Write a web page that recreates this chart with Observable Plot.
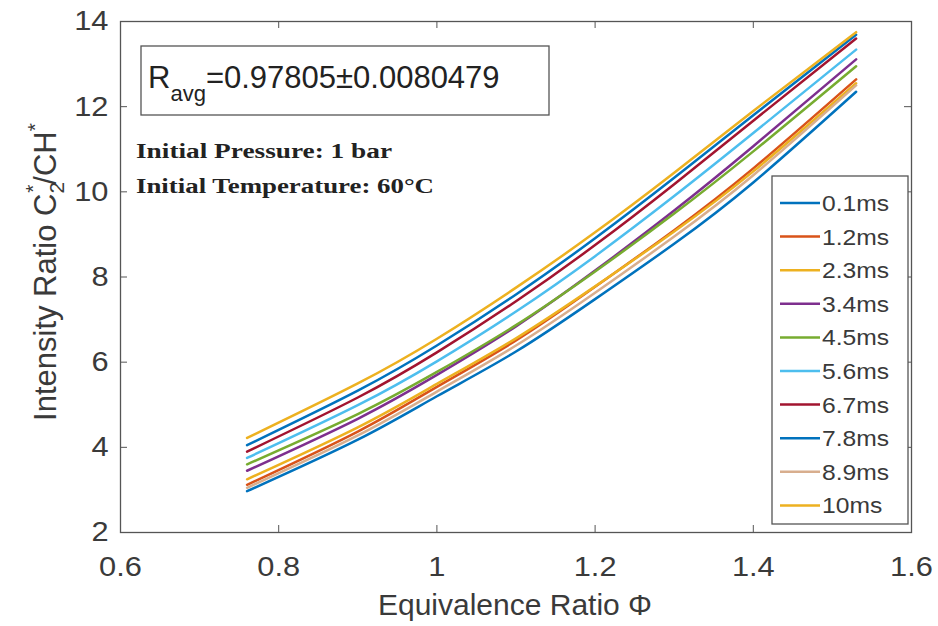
<!DOCTYPE html>
<html>
<head>
<meta charset="utf-8">
<script src="https://cdn.jsdelivr.net/npm/d3@7"></script>
<script src="https://cdn.jsdelivr.net/npm/@observablehq/plot@0.6"></script>
<style>
  html, body { margin: 0; padding: 0; background: #fff; }
  #chart svg { display: block; }
</style>
</head>
<body>
<div id="chart"></div>
<script>
// Equivalence ratio sample points
const phi = [0.76, 0.9, 1.0, 1.1, 1.2, 1.3, 1.4, 1.53];
// Intensity ratio C2*/CH* per time
const ms01 = [2.97, 4.18, 5.20, 6.25, 7.48, 8.78, 10.22, 12.35];
const ms12 = [3.12, 4.37, 5.42, 6.51, 7.77, 9.10, 10.55, 12.64];
const ms23 = [3.25, 4.47, 5.49, 6.56, 7.78, 9.07, 10.48, 12.55];
const ms34 = [3.45, 4.67, 5.70, 6.84, 8.15, 9.56, 11.07, 13.11];
const ms45 = [3.60, 4.78, 5.77, 6.87, 8.13, 9.49, 10.95, 12.95];
const ms56 = [3.75, 4.99, 6.02, 7.19, 8.49, 9.90, 11.38, 13.34];
const ms67 = [3.90, 5.17, 6.23, 7.43, 8.75, 10.18, 11.67, 13.60];
const ms78 = [4.05, 5.33, 6.39, 7.59, 8.91, 10.33, 11.80, 13.69];
const ms89 = [3.05, 4.28, 5.31, 6.39, 7.63, 8.95, 10.39, 12.50];
const ms10 = [4.22, 5.50, 6.55, 7.75, 9.05, 10.45, 11.90, 13.75];

const seriesNames = ["0.1ms","1.2ms","2.3ms","3.4ms","4.5ms","5.6ms","6.7ms","7.8ms","8.9ms","10ms"];
const seriesValues = [ms01, ms12, ms23, ms34, ms45, ms56, ms67, ms78, ms89, ms10];
const seriesColors = ["#0072BD","#D95319","#EDB120","#7E2F8E","#77AC30","#4DBEEE","#A2142F","#0072BD","#D8AE8E","#EDB120"];

const xTicks = [0.6, 0.8, 1.0, 1.2, 1.4, 1.6];
const yTicks = [2, 4, 6, 8, 10, 12, 14];
const xTickLabels = ["0.6", "0.8", "1", "1.2", "1.4", "1.6"];

const rows = seriesNames.flatMap((s, i) => phi.map((p, j) => ({series: s, phi: p, v: seriesValues[i][j]})));

const W = 938, H = 626;
const mL = 120, mR = 27, mT = 21, mB = 94;
const pw = W - mL - mR, ph = H - mT - mB;
const axisColor = "#555";
const textColor = "#3a3a3a";
const sans = "'Liberation Sans', Arial, sans-serif";

const chart = Plot.plot({
  width: W, height: H,
  marginLeft: mL, marginRight: mR, marginTop: mT, marginBottom: mB,
  style: {fontFamily: sans, background: "#fff", color: textColor},
  x: {domain: [0.6, 1.6], label: null},
  y: {domain: [2, 14], label: null},
  color: {domain: seriesNames, range: seriesColors},
  marks: [
    Plot.frame({stroke: axisColor, strokeWidth: 1.3}),
    Plot.tickX(xTicks, {x: d => d, stroke: axisColor, insetTop: ph - 7}),
    Plot.tickX(xTicks, {x: d => d, stroke: axisColor, insetBottom: ph - 7}),
    Plot.tickY(yTicks, {y: d => d, stroke: axisColor, insetRight: pw - 7}),
    Plot.tickY(yTicks, {y: d => d, stroke: axisColor, insetLeft: pw - 7}),
    Plot.axisX(xTicks, {tickSize: 0, tickPadding: 24, fontSize: 28, tickFormat: (d, i) => xTickLabels[i], fill: textColor}),
    Plot.axisY(yTicks, {tickSize: 0, tickPadding: 12, fontSize: 28, fill: textColor}),
    Plot.line(rows, {x: "phi", y: "v", z: "series", stroke: "series", curve: "natural", strokeWidth: 2.5})
  ]
});
document.getElementById("chart").appendChild(chart);

const svg = d3.select(chart);

// stretch tick labels horizontally a bit (reference font is wider)
svg.selectAll('g[aria-label="x-axis tick label"] text, g[aria-label="y-axis tick label"] text').each(function() {
  const L = this.getComputedTextLength();
  this.setAttribute("textLength", L * 1.1);
  this.setAttribute("lengthAdjust", "spacingAndGlyphs");
});

// axis titles
svg.append("text")
  .attr("x", 515).attr("y", 615)
  .attr("text-anchor", "middle")
  .attr("font-family", sans)
  .attr("font-size", 30).attr("fill", textColor)
  .text("Equivalence Ratio \u03A6");

const yl = svg.append("text")
  .attr("transform", "translate(56,272) rotate(-90)")
  .attr("text-anchor", "middle")
  .attr("font-family", sans)
  .attr("font-size", 31).attr("fill", textColor);
yl.append("tspan").text("Intensity Ratio C");
yl.append("tspan").attr("font-size", 21).attr("dy", 8).text("2");
yl.append("tspan").attr("font-size", 21).attr("dx", -11).attr("dy", -24).text("*");
yl.append("tspan").attr("dy", 16).text("/CH");
yl.append("tspan").attr("font-size", 21).attr("dy", -14).text("*");

// R_avg box
svg.append("rect").attr("x", 141).attr("y", 46).attr("width", 408).attr("height", 69)
  .attr("fill", "#fff").attr("stroke", axisColor).attr("stroke-width", 1.3);
const rt = svg.append("text").attr("x", 148).attr("y", 88)
  .attr("text-anchor", "start")
  .attr("font-family", sans)
  .attr("font-size", 31).attr("fill", "#222");
rt.append("tspan").text("R");
rt.append("tspan").attr("font-size", 22).attr("dy", 13).text("avg");
rt.append("tspan").attr("dy", -13).text("=0.97805\u00B10.0080479");

// condition annotations
svg.append("text").attr("x", 136).attr("y", 158)
  .attr("text-anchor", "start")
  .attr("font-family", "'Liberation Serif', 'DejaVu Serif', serif").attr("font-weight", "bold")
  .attr("font-size", 20).attr("fill", "#222")
  .attr("textLength", 256).attr("lengthAdjust", "spacingAndGlyphs")
  .text("Initial Pressure: 1 bar");
svg.append("text").attr("x", 136).attr("y", 193)
  .attr("text-anchor", "start")
  .attr("font-family", "'Liberation Serif', 'DejaVu Serif', serif").attr("font-weight", "bold")
  .attr("font-size", 20).attr("fill", "#222")
  .attr("textLength", 298).attr("lengthAdjust", "spacingAndGlyphs")
  .text("Initial Temperature: 60\u00B0C");

// legend
const lg = svg.append("g");
lg.append("rect").attr("x", 772).attr("y", 176).attr("width", 136).attr("height", 348)
  .attr("fill", "#fff").attr("stroke", axisColor).attr("stroke-width", 1.3);
seriesNames.forEach((s, i) => {
  const yy = 203 + i * 33.6;
  lg.append("line").attr("x1", 780).attr("x2", 820).attr("y1", yy).attr("y2", yy)
    .attr("stroke", seriesColors[i]).attr("stroke-width", 2.5);
  const t = lg.append("text").attr("x", 822).attr("y", yy).attr("dy", "0.36em")
    .attr("text-anchor", "start")
    .attr("font-family", sans)
    .attr("font-size", 22).attr("fill", textColor).text(s);
  const L = t.node().getComputedTextLength();
  t.attr("textLength", L * 1.12).attr("lengthAdjust", "spacingAndGlyphs");
});
</script>
</body>
</html>
